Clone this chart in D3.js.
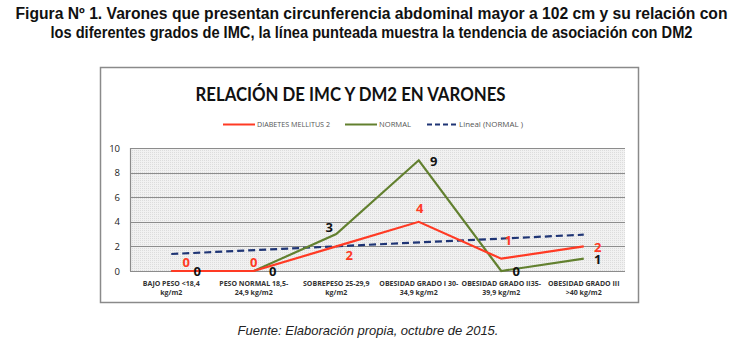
<!DOCTYPE html>
<html><head><meta charset="utf-8">
<script src="https://cdn.jsdelivr.net/npm/d3@7"></script>
<style>
html,body{margin:0;padding:0;background:#fff;}
svg{display:block;}
</style></head>
<body>
<svg id="chart" width="743" height="355"></svg>
<script>
// ---- data ----
const categories = [
  ["BAJO PESO <18,4", "kg/m2"],
  ["PESO NORMAL 18,5-", "24,9 kg/m2"],
  ["SOBREPESO 25-29,9", "kg/m2"],
  ["OBESIDAD GRADO I 30-", "34,9 kg/m2"],
  ["OBESIDAD GRADO II35-", "39,9 kg/m2"],
  ["OBESIDAD GRADO III", ">40 kg/m2"]
];
const diabetes = [0, 0, 2, 4, 1, 2];
const normal = [0, 0, 3, 9, 0, 1];
const trendEnds = [1.38, 2.95]; // "Lineal (NORMAL)" at first and last category
const yTicks = [0, 2, 4, 6, 8, 10];
const figTitle = [
  "Figura Nº 1. Varones que presentan circunferencia abdominal mayor a 102 cm y su relación con",
  "los diferentes grados de IMC, la línea punteada muestra la tendencia de asociación con DM2"
];
const chartTitle = "RELACIÓN DE IMC Y DM2 EN VARONES";
const legendLabels = ["DIABETES  MELLITUS 2", "NORMAL", "Lineal  (NORMAL )"];
const source = "Fuente: Elaboración propia, octubre de 2015.";

// ---- layout / style ----
const RED = "#ff3a24", GREEN = "#62802f", NAVY = "#1f3575";
const redLabelOff = [[15,-9],[0,-9],[13,9],[1,-14],[7,-19],[14,1]];
const greenLabelOff = [[26,0],[19,0],[-7,-7],[15,1],[15,0],[14,0]];

const svg = d3.select("#chart");

// pattern for plot background
const defs = svg.append("defs");
const pat = defs.append("pattern").attr("id","dots").attr("width",2).attr("height",2).attr("patternUnits","userSpaceOnUse");
pat.append("rect").attr("width",2).attr("height",2).attr("fill","#f1f1f1");
pat.append("rect").attr("width",1).attr("height",1).attr("fill","#dcdcdc");

// figure title
svg.selectAll("text.fig").data(figTitle).join("text")
  .attr("x", 371.5).attr("y",(d,i)=>19+i*19)
  .attr("text-anchor","middle")
  .attr("font-family","'Liberation Sans Narrow','Arial Narrow',Arial,sans-serif")
  .attr("font-weight","bold").attr("font-size",16).attr("fill","#111")
  .attr("textLength",(d,i)=> i===0 ? 712 : 642).attr("lengthAdjust","spacingAndGlyphs")
  .text(d=>d);

// frame
svg.append("rect").attr("x",100.5).attr("y",67.5).attr("width",538).attr("height",235)
  .attr("fill","#fff").attr("stroke","#8a8a8a").attr("stroke-width",1.5);

// chart title
svg.append("text").attr("x",350.5).attr("y",101).attr("text-anchor","middle")
  .attr("font-family","Lato,'Open Sans',sans-serif").attr("font-weight","bold")
  .attr("font-size",19).attr("fill","#111")
  .attr("textLength",310).attr("lengthAdjust","spacingAndGlyphs")
  .text(chartTitle);

// legend
const legend = svg.append("g").attr("font-family","'Liberation Sans Narrow','Open Sans',sans-serif")
  .attr("font-size",6.5).attr("fill","#555");
const legItems = [
  {x1:223, x2:255, color:RED, dash:null, tx:257, tw:73},
  {x1:345, x2:377, color:GREEN, dash:null, tx:379, tw:32},
  {x1:427, x2:457, color:NAVY, dash:"5,3", tx:459, tw:64}
];
legItems.forEach((d,i)=>{
  legend.append("line").attr("x1",d.x1).attr("x2",d.x2).attr("y1",124.5).attr("y2",124.5)
    .attr("stroke",d.color).attr("stroke-width",2).attr("stroke-dasharray",d.dash);
  legend.append("text").attr("x",d.tx).attr("y",127).attr("textLength",d.tw)
    .attr("lengthAdjust","spacingAndGlyphs").text(legendLabels[i]);
});

// scales
const plot = {left:130, right:625, top:148, bottom:271};
const x = d3.scaleBand().domain(d3.range(categories.length)).range([plot.left, plot.right]);
const cx = i => x(i) + x.bandwidth()/2;
const y = d3.scaleLinear().domain([0,10]).range([plot.bottom, plot.top]);

// plot background
svg.append("rect").attr("x",plot.left).attr("y",plot.top).attr("width",plot.right-plot.left)
  .attr("height",plot.bottom-plot.top).attr("fill","url(#dots)");

// gridlines
svg.append("g").selectAll("line").data(yTicks).join("line")
  .attr("x1",plot.left).attr("x2",plot.right)
  .attr("y1",d=>Math.round(y(d))+0.5).attr("y2",d=>Math.round(y(d))+0.5)
  .attr("stroke","#8c8c8c").attr("stroke-width",1.2);
svg.append("line").attr("x1",plot.left+0.5).attr("x2",plot.left+0.5)
  .attr("y1",plot.top).attr("y2",plot.bottom).attr("stroke","#8c8c8c").attr("stroke-width",1.2);

// y axis labels
const yAxis = d3.axisLeft(y).tickValues(yTicks).tickSize(0).tickPadding(10);
const ya = svg.append("g").attr("transform",`translate(${plot.left},0)`).call(yAxis);
ya.select(".domain").remove();
ya.selectAll("text").attr("font-family","'Open Sans',sans-serif").attr("font-size",9.5).attr("fill","#222");

// x axis labels
const xl = svg.append("g").attr("font-family","'Liberation Sans Narrow','Open Sans',sans-serif")
  .attr("font-weight","bold").attr("font-size",7).attr("fill","#333").attr("text-anchor","middle");
categories.forEach((lines,i)=>{
  lines.forEach((t,j)=>{
    xl.append("text").attr("x",cx(i)).attr("y",285.5+j*9.5).text(t);
  });
});

// trend line
svg.append("line").attr("x1",cx(0)).attr("x2",cx(categories.length-1))
  .attr("y1",y(trendEnds[0])).attr("y2",y(trendEnds[1]))
  .attr("stroke",NAVY).attr("stroke-width",2.2).attr("stroke-dasharray","7,4");

// lines
const line = d3.line().x((d,i)=>cx(i)).y(d=>y(d));
svg.append("path").datum(normal).attr("d",line).attr("fill","none").attr("stroke",GREEN).attr("stroke-width",2.2);
svg.append("path").datum(diabetes).attr("d",line).attr("fill","none").attr("stroke",RED).attr("stroke-width",2.2);

// data labels
svg.append("g").selectAll("text").data(normal).join("text")
  .attr("x",(d,i)=>cx(i)+greenLabelOff[i][0]).attr("y",(d,i)=>y(d)+greenLabelOff[i][1])
  .attr("text-anchor","middle").attr("dominant-baseline","central")
  .attr("font-family","'Open Sans',sans-serif").attr("font-weight","bold").attr("font-size",13)
  .attr("fill","#111").text(d=>d);
svg.append("g").selectAll("text").data(diabetes).join("text")
  .attr("x",(d,i)=>cx(i)+redLabelOff[i][0]).attr("y",(d,i)=>y(d)+redLabelOff[i][1])
  .attr("text-anchor","middle").attr("dominant-baseline","central")
  .attr("font-family","'Open Sans',sans-serif").attr("font-weight","bold").attr("font-size",13)
  .attr("fill",RED).text(d=>d);

// source
svg.append("text").attr("x",368).attr("y",335).attr("text-anchor","middle")
  .attr("font-family","'Liberation Sans',Arial,sans-serif").attr("font-style","italic")
  .attr("font-size",13).attr("fill","#222").text(source);
</script>
</body></html>
